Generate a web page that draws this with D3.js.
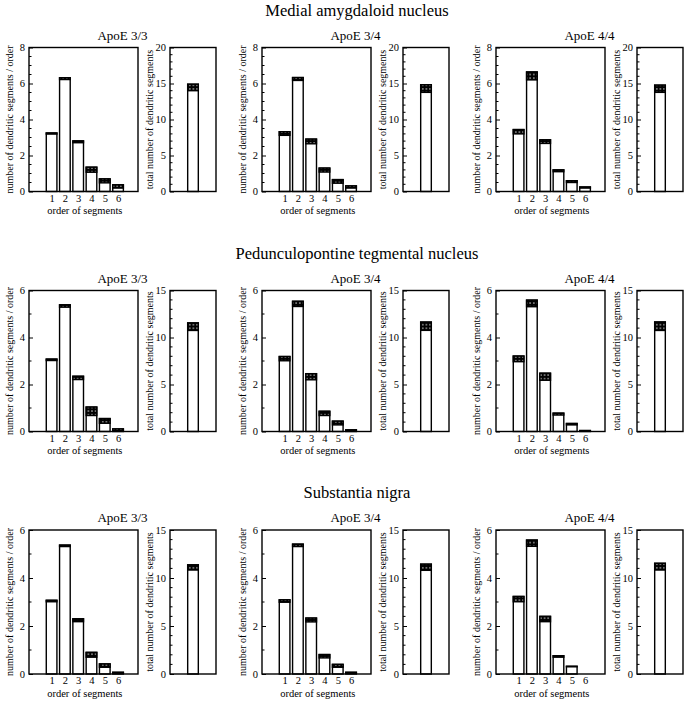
<!DOCTYPE html>
<html><head><meta charset="utf-8">
<script src="https://cdn.jsdelivr.net/npm/d3@7"></script>
<style>
body{margin:0;background:#fff}
text{font-family:"Liberation Serif","Times New Roman",serif;fill:#000}
</style>
</head><body>
<svg id="c" width="688" height="702"></svg>
<script>
// ---------- data ----------
const regions = ["Medial amygdaloid nucleus", "Pedunculopontine tegmental nucleus", "Substantia nigra"];
const genotypes = ["ApoE 3/3", "ApoE 3/4", "ApoE 4/4"];
const orders = [1, 2, 3, 4, 5, 6];
const orderAxisMax = [8, 6, 6];
const totalAxisMax = [20, 15, 15];
const orderTicks = [[0, 2, 4, 6, 8], [0, 2, 4, 6], [0, 2, 4, 6]];
const totalTicks = [[0, 5, 10, 15, 20], [0, 5, 10, 15], [0, 5, 10, 15]];

// mean number of dendritic segments per order (rows: 3/3, 3/4, 4/4)
const medialMean = [[3.22, 6.27, 2.76, 1.21, 0.59, 0.28], [3.22, 6.25, 2.78, 1.19, 0.56, 0.25], [3.32, 6.42, 2.77, 1.15, 0.55, 0.22]];
const medialSem  = [[0.03, 0.05, 0.05, 0.14, 0.11, 0.09], [0.10, 0.08, 0.13, 0.11, 0.10, 0.06], [0.12, 0.22, 0.10, 0.05, 0.05, 0.03]];
const pptMean    = [[3.05, 5.34, 2.28, 0.86, 0.45, 0.06], [3.10, 5.43, 2.33, 0.77, 0.36, 0.05], [3.09, 5.45, 2.33, 0.74, 0.31, 0.03]];
const pptSem     = [[0.03, 0.05, 0.07, 0.18, 0.10, 0.05], [0.09, 0.11, 0.13, 0.09, 0.08, 0.02], [0.12, 0.14, 0.15, 0.04, 0.03, 0.01]];
const snMean     = [[3.04, 5.34, 2.24, 0.80, 0.35, 0.05], [3.04, 5.36, 2.25, 0.74, 0.34, 0.05], [3.12, 5.45, 2.29, 0.73, 0.31, 0.00]];
const snSem      = [[0.03, 0.03, 0.06, 0.10, 0.07, 0.02], [0.05, 0.05, 0.08, 0.07, 0.06, 0.02], [0.11, 0.13, 0.11, 0.03, 0.01, 0.00]];

// total number of dendritic segments (per genotype)
const medialTotalMean = [14.45, 14.30, 14.27];
const medialTotalSem  = [0.45, 0.53, 0.50];
const pptTotalMean    = [11.15, 11.20, 11.20];
const pptTotalSem     = [0.40, 0.44, 0.45];
const snTotalMean     = [11.10, 11.12, 11.18];
const snTotalSem      = [0.27, 0.32, 0.35];

const meansByRegion = [medialMean, pptMean, snMean];
const semsByRegion = [medialSem, pptSem, snSem];
const totalMeansByRegion = [medialTotalMean, pptTotalMean, snTotalMean];
const totalSemsByRegion = [medialTotalSem, pptTotalSem, snTotalSem];

// ---------- layout ----------
const svg = d3.select("#c");
const defs = svg.append("defs");
const pat = defs.append("pattern").attr("id", "dots").attr("patternUnits", "userSpaceOnUse")
  .attr("width", 3.6).attr("height", 3.6);
pat.append("rect").attr("width", 3.6).attr("height", 3.6).attr("fill", "#000");
pat.append("circle").attr("cx", 1.8).attr("cy", 1.8).attr("r", 0.75).attr("fill", "#fff");

const colLeft = [29, 262, 496];
const mainW = 109, totalOff = 141, totalW = 46;
const rowTop = [47.5, 290.5, 530];
const rowH = [144, 141, 144];

function drawAxisY(g, y, max, ticks, minorStep) {
  const minor = d3.range(0, max + 1e-9, minorStep).filter(v => !ticks.includes(v));
  g.selectAll("line.minor").data(minor).join("line")
    .attr("x1", 0).attr("x2", 2.5).attr("y1", d => y(d)).attr("y2", d => y(d))
    .attr("stroke", "#000").attr("stroke-width", 1);
  const ax = d3.axisLeft(y).tickValues(ticks).tickSize(-4).tickPadding(4).tickFormat(d3.format("d"));
  const a = g.append("g").call(ax);
  a.select(".domain").remove();
  a.selectAll(".tick line").attr("stroke", "#000").attr("stroke-width", 1);
  a.selectAll(".tick text").attr("font-size", 10.5).attr("font-family", "Liberation Serif, serif").attr("fill", "#000");
}

regions.forEach((region, r) => {
  const top = rowTop[r], h = rowH[r];
  svg.append("text").attr("x", 357).attr("y", top - 32).attr("text-anchor", "middle")
    .attr("font-size", 16.5).text(region);

  genotypes.forEach((gt, c) => {
    const left = colLeft[c];
    svg.append("text").attr("x", (left + left + totalOff + totalW) / 2).attr("y", top - 8)
      .attr("text-anchor", "middle").attr("font-size", 13).text(gt);

    // ----- order panel -----
    const g = svg.append("g").attr("transform", `translate(${left},${top})`);
    const x = d3.scaleLinear().domain([-0.7, 7.5]).range([0, mainW]);
    const y = d3.scaleLinear().domain([0, orderAxisMax[r]]).range([h, 0]);
    const bw = (x(1) - x(0)) * 0.8;
    const means = meansByRegion[r][c], sems = semsByRegion[r][c];
    const bars = orders.map((o, i) => ({o, m: means[i], s: sems[i]}));

    g.selectAll("rect.bar").data(bars.filter(d => d.m > 0)).join("rect")
      .attr("x", d => x(d.o) - bw / 2).attr("width", bw)
      .attr("y", d => y(d.m + d.s)).attr("height", d => y(0) - y(d.m + d.s))
      .attr("fill", "#fff").attr("stroke", "#000").attr("stroke-width", 1.4);
    g.selectAll("rect.cap").data(bars.filter(d => d.m > 0)).join("rect")
      .attr("x", d => x(d.o) - bw / 2).attr("width", bw)
      .attr("y", d => y(d.m + d.s)).attr("height", d => Math.max(0.01, y(d.m - d.s) - y(d.m + d.s)))
      .attr("fill", "url(#dots)").attr("stroke", "#000").attr("stroke-width", 1.4);

    g.append("rect").attr("width", mainW).attr("height", h).attr("fill", "none")
      .attr("stroke", "#000").attr("stroke-width", 1.4);
    drawAxisY(g, y, orderAxisMax[r], orderTicks[r], orderAxisMax[r] === 8 ? 0.5 : 1);

    const xa = g.append("g").attr("transform", `translate(0,${h})`)
      .call(d3.axisBottom(x).tickValues(orders).tickSize(0).tickPadding(3).tickFormat(d3.format("d")));
    xa.select(".domain").remove();
    xa.selectAll("text").attr("font-size", 10.5).attr("font-family", "Liberation Serif, serif").attr("fill", "#000");

    g.append("text").attr("x", x(3.5)).attr("y", h + 22.5).attr("text-anchor", "middle")
      .attr("font-size", 10.5).text("order of segments");
    g.append("text").attr("transform", `translate(-16.5,${h / 2}) rotate(-90)`).attr("text-anchor", "middle")
      .attr("font-size", 10).text("number of dendritic segments / order");

    // ----- total panel -----
    const gt2 = svg.append("g").attr("transform", `translate(${left + totalOff},${top})`);
    const xt = d3.scaleLinear().domain([0, 2]).range([0, totalW]);
    const yt = d3.scaleLinear().domain([0, totalAxisMax[r]]).range([h, 0]);
    const tm = totalMeansByRegion[r][c], ts = totalSemsByRegion[r][c];
    gt2.append("rect").attr("x", xt(1) - bw / 2).attr("width", bw)
      .attr("y", yt(tm + ts)).attr("height", yt(0) - yt(tm + ts))
      .attr("fill", "#fff").attr("stroke", "#000").attr("stroke-width", 1.4);
    gt2.append("rect").attr("x", xt(1) - bw / 2).attr("width", bw)
      .attr("y", yt(tm + ts)).attr("height", yt(tm - ts) - yt(tm + ts))
      .attr("fill", "url(#dots)").attr("stroke", "#000").attr("stroke-width", 1.4);
    gt2.append("rect").attr("width", totalW).attr("height", h).attr("fill", "none")
      .attr("stroke", "#000").attr("stroke-width", 1.4);
    drawAxisY(gt2, yt, totalAxisMax[r], totalTicks[r], 1);
    gt2.append("text").attr("transform", `translate(-17,${h / 2}) rotate(-90)`).attr("text-anchor", "middle")
      .attr("font-size", 10).text("total number of dendritic segments");
  });
});
</script>
</body></html>
